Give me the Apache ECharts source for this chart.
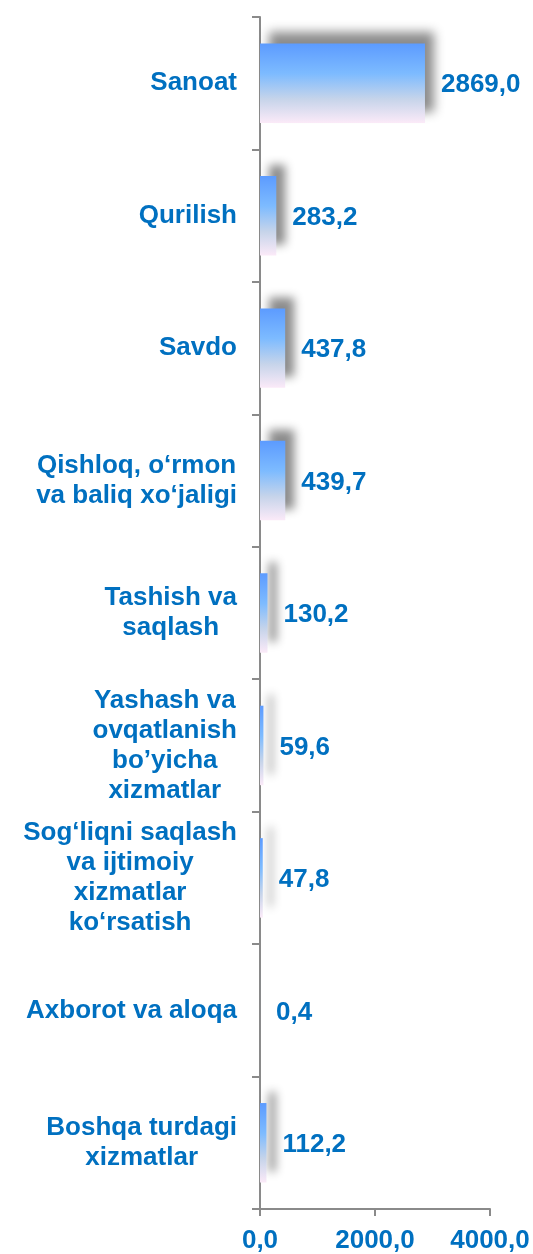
<!DOCTYPE html>
<html>
<head>
<meta charset="utf-8">
<script src="https://cdn.jsdelivr.net/npm/echarts@6/dist/echarts.min.js"></script>
<style>
  html, body { margin: 0; padding: 0; background: #fff; }
  #chart { width: 533px; height: 1254px; }
</style>
</head>
<body>
<div id="chart"></div>
<script>
// sohalar
var categories = [
  'Sanoat',
  'Qurilish',
  'Savdo',
  'Qishloq, o\u2018rmon\nva baliq xo\u2018jaligi',
  'Tashish va\nsaqlash',
  'Yashash va\novqatlanish\nbo\u2019yicha\nxizmatlar',
  'Sog\u2018liqni saqlash\nva ijtimoiy\nxizmatlar\nko\u2018rsatish',
  'Axborot va aloqa',
  'Boshqa turdagi\nxizmatlar'
];
var values = [2869.0, 283.2, 437.8, 439.7, 130.2, 59.6, 47.8, 0.4, 112.2];
var axisTicks = [0, 2000, 4000];

var blue = '#0070c0';
var font = 'Liberation Sans, Arial, sans-serif';

function fmt(v) {
  return Number(v).toFixed(1).replace('.', ',');
}

var myChart = echarts.init(document.getElementById('chart'));
var option = {
  animation: false,
  grid: { left: 260, right: 43, top: 17, bottom: 45, containLabel: false },
  xAxis: {
    type: 'value',
    min: axisTicks[0],
    max: axisTicks[axisTicks.length - 1],
    interval: axisTicks[1] - axisTicks[0],
    splitLine: { show: false },
    axisLine: { show: true, lineStyle: { color: '#8a8a8a', width: 2 } },
    axisTick: { show: true, length: 7, lineStyle: { color: '#8a8a8a', width: 2 } },
    axisLabel: {
      formatter: fmt,
      color: blue, fontSize: 26, fontWeight: 'bold', fontFamily: font,
      margin: 19
    }
  },
  yAxis: {
    type: 'category',
    inverse: true,
    data: categories,
    axisLine: { show: true, lineStyle: { color: '#8a8a8a', width: 2 } },
    axisTick: { show: true, length: 8, alignWithLabel: false, lineStyle: { color: '#8a8a8a', width: 2 } },
    axisLabel: {
      margin: 23,
      formatter: function(v) { return '{c|' + v + '}'; },
      color: blue, fontSize: 26, fontWeight: 'bold', fontFamily: font, lineHeight: 30,
      rich: {
        c: { align: 'center', color: blue, fontSize: 26, fontWeight: 'bold', fontFamily: font, lineHeight: 30 }
      }
    }
  },
  series: [
    {
      type: 'bar',
      data: values,
      barWidth: '60%',
      itemStyle: {
        color: new echarts.graphic.LinearGradient(0, 0, 0, 1, [
          { offset: 0, color: '#5c9bff' },
          { offset: 0.38, color: '#7dbbff' },
          { offset: 0.7, color: '#c6d4ea' },
          { offset: 1, color: '#fbeaf8' }
        ]),
        shadowColor: 'rgba(0,0,0,0.45)',
        shadowBlur: 10,
        shadowOffsetX: 9,
        shadowOffsetY: -11
      },
      label: {
        show: true,
        position: 'right',
        distance: 16,
        offset: [0, 2],
        formatter: function(p) { return fmt(p.value); },
        color: blue, fontSize: 26, fontWeight: 'bold', fontFamily: font
      }
    }
  ]
};
myChart.setOption(option);
</script>
</body>
</html>
